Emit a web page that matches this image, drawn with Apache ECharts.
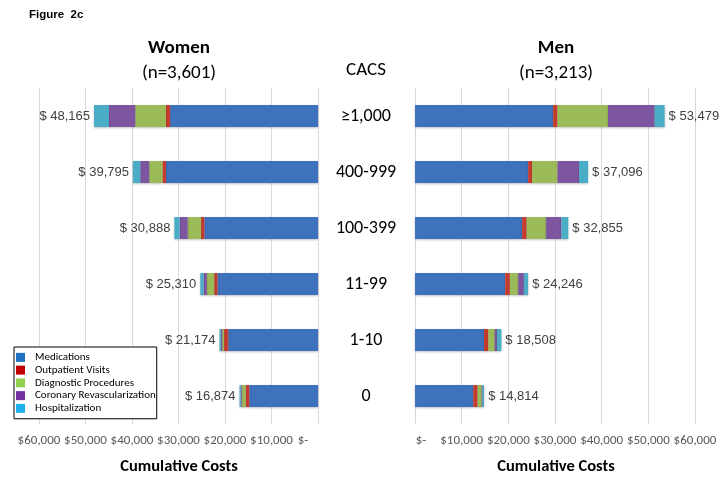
<!DOCTYPE html>
<html>
<head>
<meta charset="utf-8">
<script src="https://cdn.jsdelivr.net/npm/echarts@6/dist/echarts.min.js"></script>
<style>
html,body{margin:0;padding:0;background:#fff;}
#chart{width:726px;height:483px;}
</style>
</head>
<body>
<div id="chart"></div>
<script>
const categories = ['≥1,000', '400-999', '100-399', '11-99', '1-10', '0'];
const seriesNames = ['Medications', 'Outpatient Visits', 'Diagnostic Procedures', 'Coronary Revascularization', 'Hospitalization'];

const womenMedications = [31800, 32700, 24438, 21620, 19300, 14780];
const womenOutpatient  = [900, 750, 710, 710, 900, 780];
const womenDiagnostic  = [6600, 2850, 2880, 1560, 400, 850];
const womenCoronary    = [5650, 1920, 1720, 720, 250, 200];
const womenHospital    = [3215, 1575, 1140, 700, 324, 264];
const womenTotals      = [48165, 39795, 30888, 25310, 21174, 16874];

const menMedications = [29600, 24250, 22950, 19330, 14790, 12480];
const menOutpatient  = [940, 860, 985, 1000, 940, 940];
const menDiagnostic  = [10830, 5430, 4150, 1780, 1350, 860];
const menCoronary    = [9990, 4620, 3275, 1220, 490, 200];
const menHospital    = [2119, 1936, 1495, 916, 938, 334];
const menTotals      = [53479, 37096, 32855, 24246, 18508, 14814];

const tickLabels = {0: '$-', 10000: '$10,000', 20000: '$20,000', 30000: '$30,000', 40000: '$40,000', 50000: '$50,000', 60000: '$60,000'};

const barColors = ['#3e72bd', '#c63b2f', '#9bbb59', '#7d55a0', '#4bacc6'];
const legendColors = ['#1f6fc2', '#c00000', '#92d050', '#7030a0', '#1cb0ee'];

const chart = echarts.init(document.getElementById('chart'), null, {renderer: 'canvas'});

const arialF = "'Liberation Sans', Arial, sans-serif";
const calib = "Carlito, Lato, sans-serif";

function makeSeries(values, gridIdx, totals) {
  return values.map((vals, i) => {
    const s = {
      name: seriesNames[i],
      type: 'bar',
      stack: gridIdx === 0 ? 'women' : 'men',
      xAxisIndex: gridIdx,
      yAxisIndex: gridIdx,
      barWidth: 22,
      data: vals,
      itemStyle: {color: barColors[i], shadowColor: 'rgba(0,0,0,0.25)', shadowBlur: 2, shadowOffsetY: 1},
      emphasis: {disabled: true}
    };
    if (i === values.length - 1) {
      s.label = {
        show: true,
        position: gridIdx === 0 ? 'left' : 'right',
        distance: 4,
        fontFamily: arialF,
        fontSize: 13,
        color: '#404040',
        formatter: p => '$ ' + totals[p.dataIndex].toLocaleString('en-US')
      };
    }
    return s;
  });
}

const axisLabelStyle = {color: '#595959', fontFamily: calib, fontSize: 13, margin: 10};

const option = {
  animation: false,
  grid: [
    {left: 39, width: 279, top: 88, height: 336},
    {left: 415, width: 280, top: 88, height: 336}
  ],
  xAxis: [
    {
      gridIndex: 0, type: 'value', inverse: true, min: 0, max: 60000, interval: 10000,
      axisLine: {show: false}, axisTick: {show: false},
      splitLine: {show: true, lineStyle: {color: '#d9d9d9'}},
      axisLabel: Object.assign({}, axisLabelStyle, {
        formatter: v => v === 0 ? '{z|' + tickLabels[v] + '}' : tickLabels[v],
        rich: {z: {color: '#595959', fontFamily: calib, fontSize: 13, padding: [0, 30, 0, 0]}}
      })
    },
    {
      gridIndex: 1, type: 'value', min: 0, max: 60000, interval: 10000,
      axisLine: {show: false}, axisTick: {show: false},
      splitLine: {show: true, lineStyle: {color: '#d9d9d9'}},
      axisLabel: Object.assign({}, axisLabelStyle, {
        formatter: v => v === 0 ? '{z|' + tickLabels[v] + '}' : tickLabels[v],
        rich: {z: {color: '#595959', fontFamily: calib, fontSize: 13, padding: [0, 0, 0, 12]}}
      })
    }
  ],
  yAxis: [
    {
      gridIndex: 0, type: 'category', data: categories, inverse: true,
      axisLine: {show: false}, axisTick: {show: false}, axisLabel: {show: false}
    },
    {
      gridIndex: 1, type: 'category', data: categories, inverse: true,
      axisLine: {show: false}, axisTick: {show: false},
      axisLabel: {show: true, align: 'center', margin: 49, color: '#000', fontFamily: calib, fontSize: 18}
    }
  ],
  legend: {
    orient: 'vertical',
    left: 14, top: 347,
    width: 142,
    backgroundColor: '#fff',
    borderColor: '#000', borderWidth: 1, borderRadius: 0,
    padding: [4, 1, 4, 2],
    itemWidth: 9, itemHeight: 9, itemGap: 0,
    icon: 'rect',
    selectedMode: false,
    textStyle: {fontFamily: calib, fontSize: 11, color: '#000', lineHeight: 12.75, padding: [0, 0, 0, 5]},
    data: seriesNames.map((n, i) => ({name: n, itemStyle: {color: legendColors[i]}}))
  },
  graphic: [
    {type: 'text', left: 29, top: 9, style: {text: 'Figure  2c', font: "bold 11.5px 'Liberation Sans', Arial, sans-serif", fill: '#000'}},
    {type: 'text', x: 179, y: 48, style: {text: 'Women', font: "bold 19px " + calib, fill: '#000', textAlign: 'center', textVerticalAlign: 'middle'}},
    {type: 'text', x: 179, y: 73, style: {text: '(n=3,601)', font: "19px " + calib, fill: '#000', textAlign: 'center', textVerticalAlign: 'middle'}},
    {type: 'text', x: 556, y: 48, style: {text: 'Men', font: "bold 19px " + calib, fill: '#000', textAlign: 'center', textVerticalAlign: 'middle'}},
    {type: 'text', x: 556, y: 73, style: {text: '(n=3,213)', font: "19px " + calib, fill: '#000', textAlign: 'center', textVerticalAlign: 'middle'}},
    {type: 'text', x: 366, y: 70, style: {text: 'CACS', font: "19px " + calib, fill: '#000', textAlign: 'center', textVerticalAlign: 'middle'}},
    {type: 'text', x: 179, y: 467, style: {text: 'Cumulative Costs', font: "bold 16.5px " + calib, fill: '#000', textAlign: 'center', textVerticalAlign: 'middle'}},
    {type: 'text', x: 556, y: 467, style: {text: 'Cumulative Costs', font: "bold 16.5px " + calib, fill: '#000', textAlign: 'center', textVerticalAlign: 'middle'}}
  ],
  series: [].concat(
    makeSeries([womenMedications, womenOutpatient, womenDiagnostic, womenCoronary, womenHospital], 0, womenTotals),
    makeSeries([menMedications, menOutpatient, menDiagnostic, menCoronary, menHospital], 1, menTotals)
  )
};

chart.setOption(option);
</script>
</body>
</html>
